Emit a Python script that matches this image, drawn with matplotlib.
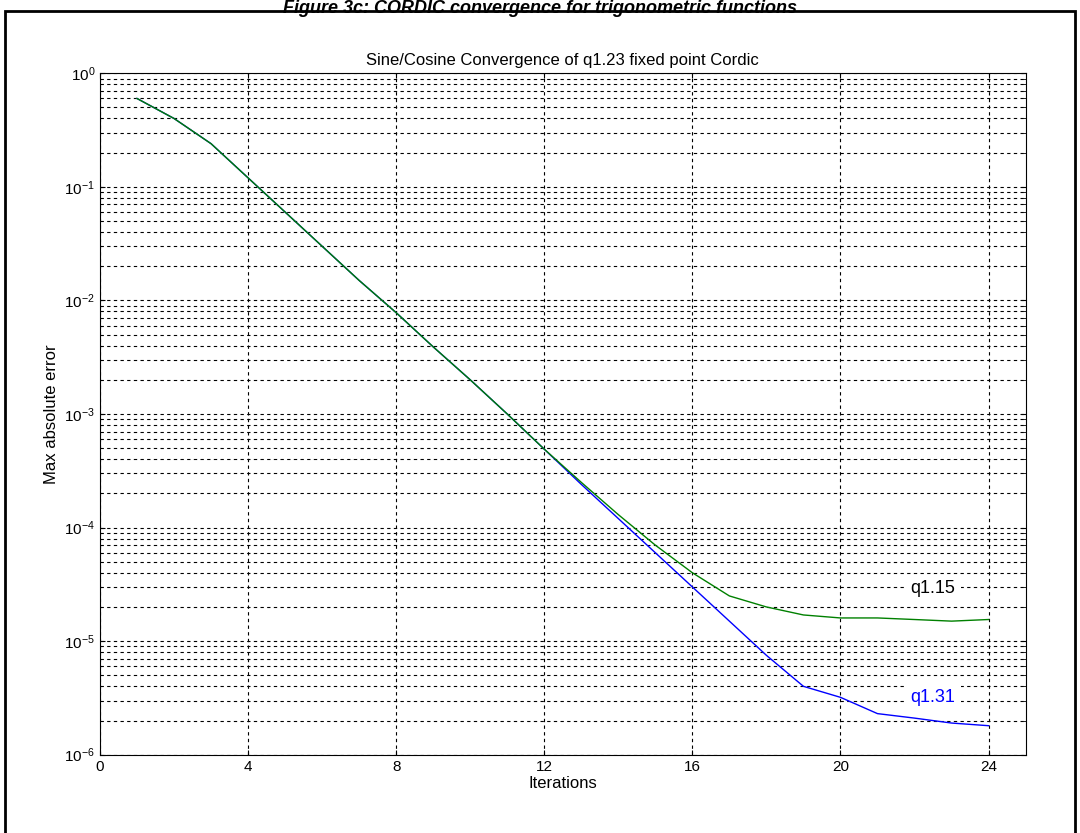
import matplotlib
matplotlib.use("Agg")
import matplotlib.pyplot as plt
from matplotlib.patches import Rectangle

plt.rcParams['font.family'] = ['Liberation Sans', 'DejaVu Sans']

iters = list(range(1, 25))
q115 = [0.6, 0.4, 0.24, 0.12, 0.06, 0.03, 0.015, 0.0078, 0.0039, 0.002, 0.001, 4.9e-4,
        2.5e-4, 1.3e-4, 7e-5, 4e-5, 2.5e-5, 2e-5, 1.7e-5, 1.6e-5, 1.6e-5, 1.55e-5, 1.5e-5, 1.55e-5]
q131 = [0.6, 0.4, 0.24, 0.12, 0.06, 0.03, 0.015, 0.0078, 0.0039, 0.002, 0.001, 4.9e-4,
        2.4e-4, 1.2e-4, 6e-5, 3e-5, 1.5e-5, 7.5e-6, 4e-6, 3.2e-6, 2.3e-6, 2.1e-6, 1.9e-6, 1.8e-6]
xticks = [0, 4, 8, 12, 16, 20, 24]

fig = plt.figure(figsize=(10.8, 8.33), dpi=100)
fig.patches.append(Rectangle((0.005, -0.01), 0.99, 0.997, transform=fig.transFigure,
                             fill=False, edgecolor='black', linewidth=2))
fig.text(0.5, 0.9995, "Figure 3c: CORDIC convergence for trigonometric functions",
         ha='center', va='top', fontsize=13, fontweight='bold', style='italic')

ax = fig.add_axes([0.0926, 0.094, 0.857, 0.818])
ax.semilogy(iters, q131, color='#0000ff', lw=1)
ax.semilogy(iters, q115, color='#008000', lw=1)
ax.set_xlim(0, 25)
ax.set_ylim(1e-6, 1)
ax.set_xticks(xticks)
ax.grid(True, which='both', linestyle=(0, (3, 3)), color='black', lw=0.8)
ax.tick_params(which='both', direction='in', top=True, right=True, labelsize=11)
ax.set_xlabel("Iterations", fontsize=12, labelpad=2)
ax.set_ylabel("Max absolute error", fontsize=12)
ax.set_title("Sine/Cosine Convergence of q1.23 fixed point Cordic", fontsize=12)
ax.text(22.5, 2.9e-5, "q1.15", fontsize=13, ha='center', va='center',
        bbox=dict(facecolor='white', edgecolor='none', pad=4))
ax.text(22.5, 3.2e-6, "q1.31", fontsize=13, ha='center', va='center', color='#0000ff',
        bbox=dict(facecolor='white', edgecolor='none', pad=4))
fig.savefig("out.png", dpi=100)
